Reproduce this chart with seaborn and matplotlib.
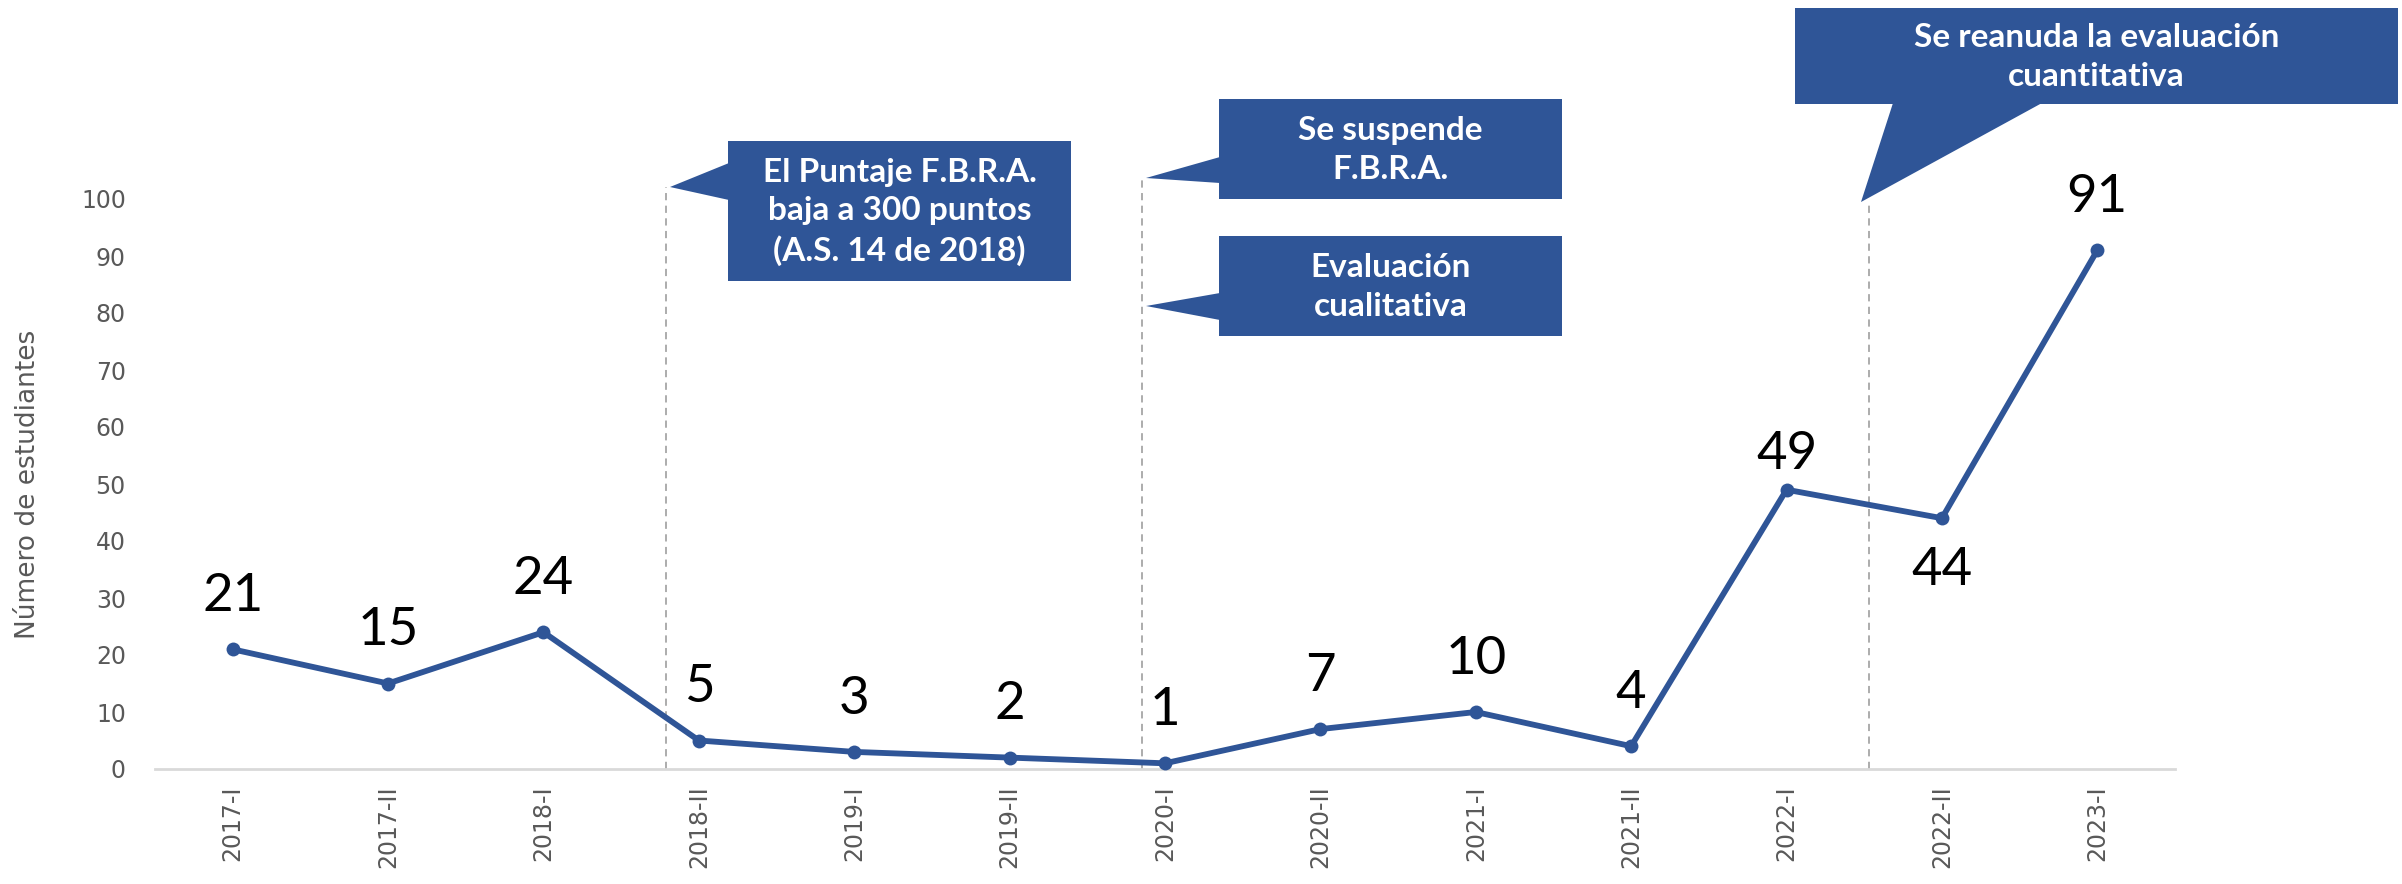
import numpy as np
import pandas as pd
import matplotlib
matplotlib.use("Agg")
import matplotlib.pyplot as plt
import seaborn as sns
from matplotlib.patches import Polygon

# ---------------- data ----------------
periodos = ["2017-I", "2017-II", "2018-I", "2018-II", "2019-I", "2019-II", "2020-I",
            "2020-II", "2021-I", "2021-II", "2022-I", "2022-II", "2023-I"]
estudiantes = [21, 15, 24, 5, 3, 2, 1, 7, 10, 4, 49, 44, 91]
y_ticks = [0, 10, 20, 30, 40, 50, 60, 70, 80, 90, 100]
y_label = "Número de estudiantes"
eventos = [
    "El Puntaje F.B.R.A.\nbaja a 300 puntos\n(A.S. 14 de 2018)",
    "Se suspende\nF.B.R.A.",
    "Evaluación\ncualitativa",
    "Se reanuda la evaluación\ncuantitativa",
]

# ---------------- style / layout ----------------
W, H = 2402, 884
BLUE = "#2F5597"
GREY_TXT = "#595959"
sns.set_theme(style="white")
plt.rcParams['font.family'] = ['DejaVu Sans']

fig = plt.figure(figsize=(W / 100, H / 100), dpi=100)
fig.patch.set_facecolor("white")


def fx(px):
    return px / W


def fy(py):
    return 1 - py / H


ax_left, ax_right, ax_bottom, ax_top = 155, 2175, 769, 199
ax = fig.add_axes([fx(ax_left), fy(ax_bottom), fx(ax_right) - fx(ax_left), fy(ax_top) - fy(ax_bottom)])
ax.set_facecolor("none")

df = pd.DataFrame({"Periodo": periodos, "Estudiantes": estudiantes})
sns.lineplot(data=df, x="Periodo", y="Estudiantes", ax=ax, color=BLUE, linewidth=4.2,
             marker="o", markersize=10, markeredgewidth=0, sort=False)
for ln in ax.lines:
    ln.set_clip_on(False)
    ln.set_zorder(4)

ax.set_xlim(-0.5, len(periodos) - 0.5)
ax.set_ylim(0, 100)
ax.set_yticks(y_ticks)
ax.set_yticklabels([str(t) for t in y_ticks], fontsize=17, color=GREY_TXT)
ax.set_xticks(range(len(periodos)))
ax.set_xticklabels(periodos, rotation=90, fontsize=17, color=GREY_TXT)
ax.tick_params(axis="y", length=0, pad=21)
ax.tick_params(axis="x", length=0, pad=12)
ax.set_xlabel("")
ax.set_ylabel("")
for s in ["left", "top", "right"]:
    ax.spines[s].set_visible(False)
ax.spines["bottom"].set_color("#D9D9D9")
ax.spines["bottom"].set_linewidth(2)
ax.grid(False)

fig.text(fx(28), fy(484), y_label, rotation=90, ha="center", va="center",
         fontsize=19, color=GREY_TXT)

# data labels
ajuste = {"2022-I": 25, "2022-II": -38}
for i, (p, v) in enumerate(zip(periodos, estudiantes)):
    off = ajuste.get(p, 38)
    ax.annotate(str(v), (i, v), xytext=(0, off), textcoords="offset points",
                ha="center", va="center", fontsize=38, color="black",
                family=["Lato", "DejaVu Sans"], annotation_clip=False)

# dashed event lines (x in category units, top in data units)
evento_x = [2.79, 5.85, 10.53]
evento_top = [102.1, 103.5, 99.5]
for x, t in zip(evento_x, evento_top):
    ax.plot([x, x], [0, t], color="#A6A6A6", lw=1.3, ls=(0, (4, 3)), clip_on=False, zorder=1)


# callouts (pixel geometry)
def callout(box, tri, text):
    x0, y0, x1, y1 = box
    rect = [(fx(x0), fy(y0)), (fx(x1), fy(y0)), (fx(x1), fy(y1)), (fx(x0), fy(y1))]
    fig.patches.append(Polygon(rect, closed=True, transform=fig.transFigure,
                               facecolor=BLUE, edgecolor="none", zorder=5))
    fig.patches.append(Polygon([(fx(a), fy(b)) for a, b in tri], closed=True,
                               transform=fig.transFigure, facecolor=BLUE,
                               edgecolor="none", zorder=5))
    fig.text(fx((x0 + x1) / 2), fy((y0 + y1) / 2 + 1), text, ha="center", va="center",
             fontsize=24, fontweight="bold", color="white", linespacing=1.38,
             family=["Lato", "DejaVu Sans"], zorder=6)


callout((728, 141, 1071, 281), [(729, 163), (729, 200), (670, 187)], eventos[0])
callout((1219, 99, 1562, 199), [(1220, 157), (1220, 183), (1146, 178)], eventos[1])
callout((1219, 236, 1562, 336), [(1220, 293), (1220, 320), (1146, 306)], eventos[2])
callout((1795, 8, 2398, 104), [(1893, 103), (2042, 103), (1861, 202)], eventos[3])

fig.savefig("out.png", dpi=100, facecolor="white")
